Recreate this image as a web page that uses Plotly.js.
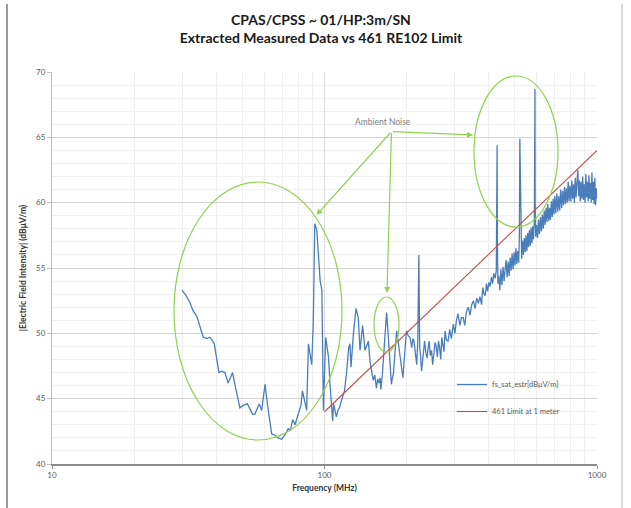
<!DOCTYPE html>
<html>
<head>
<meta charset="utf-8">
<script src="https://cdn.plot.ly/plotly-3.0.1.min.js"></script>
<style>html,body{margin:0;padding:0;background:#fff;}#chart{width:631px;height:508px;}</style>
</head>
<body>
<div id="chart"></div>
<script>
// ---- data ----
const freqMHz = [
  30,31,32,33,34,35,35.9,37,38,39.4,40.2,41,42,43.1,44.3,45.2,46,47,48.9,50.5,
  52.1,53.3,54.5,55.5,56.6,57.6,58.8,60.5,61.8,63.1,64,65.8,67.6,69.6,71.5,73.6,75,76.4,78,79.5,
  80.8,82,83,84.6,86,87.3,88.6,89.8,91,92.1,93.7,95,96.4,97.8,99.1,
  101,103.4,104.8,106,107.1,108,109.1,110.5,112,113.5,115.2,117.2,118.4,120.5,122.7,124,125.1,127.6,130.5,133,
  135,138,140.8,142.5,144.8,147,149,151,153,155,156.8,158.5,160,161,163,164.8,166.5,169,170.8,172.5,
  174.5,176,177.5,179,181.5,184,186.5,189,191.5,194,196.5,198.5,200,203,206,209,211,213,215.5,218,
  220,222,223.5,225,
  227,230,233,235.5,238,240,242,244.5,247,249.5,252,254.5,257,259.5,262,264.5,267,269.5,272,274.5,
  277,280,284,288,292,297,301,305,309,314,318,323,327,332,337,342,347,352,357,362,
  367,372,377,381,385,389,393,397,401,405,410,414,418,423,427,429,430,431,433,
  436,440,444,448,452,456,460,464,468,472,476,480,484,488,492,496,500,504,508,512,
  516,519,521,523,525,529,533,537,541,545,549,553,557,561,565,569,573,577,581,585,
  589,591,592,593,596,600,605,610,615,620,625,630,635,640,645,650,655,660,665,670,
  675,680,685,690,695,700,706,712,718,724,730,736,742,748,754,760,766,772,778,784,
  790,796,802,808,814,820,826,832,838,844,850,856,862,868,874,880,886,892,898,904,
  910,916,922,928,934,940,946,952,958,964,970,976,982,988,994,1000
];
const fieldDbuVm = [
  53.3,52.9,52.4,51.7,51.3,50.4,49.7,49.6,49.7,49.2,48.2,47.0,47.1,47.0,46.2,46.6,47.0,46.0,44.3,44.5,
  44.6,44.2,43.8,43.8,44.2,44.6,44.1,46.1,44.5,43.0,42.3,42.2,42.0,41.9,42.2,42.7,42.6,43.4,43.0,43.6,
  44.1,44.5,45.6,44.8,44.1,49.2,48.3,47.6,51.0,58.4,57.9,55.6,54.0,53.3,44.1,
  49.7,48.2,46.1,44.5,43.3,44.6,44.2,43.6,44.1,44.3,44.8,45.3,45.6,47.0,48.9,49.2,47.4,49.9,51.9,51.2,
  48.7,50.6,48.7,49.0,49.4,47.8,46.9,46.4,46.8,45.8,46.5,46.2,46.6,45.7,46.8,48.2,49.9,51.6,50.3,48.7,
  47.3,46.1,46.6,46.9,48.6,50.2,49.3,48.4,47.3,46.6,48.2,49.3,50.2,49.8,49.7,48.9,49.6,49.4,48.4,47.6,
  49.5,56.0,48.9,48.4,
  47.1,48.2,49.4,48.5,48.1,48.9,49.4,48.3,48.7,47.6,48.4,49.3,49.0,48.2,49.4,48.9,48.0,49.7,49.1,48.6,
  50.2,49.5,49.4,50.3,49.6,50.7,50.0,51.0,51.5,50.6,51.2,51.2,50.6,51.7,52.0,51.4,52.2,52.5,51.9,52.7,
  52.3,52.8,52.2,53.5,53.0,52.9,53.8,53.2,53.9,53.6,54.3,53.8,54.6,54.2,54.8,58.5,64.4,57.0,53.8,
  54.4,53.3,54.9,53.7,55.1,54.0,54.9,55.6,54.3,55.5,54.4,55.8,54.8,56.1,54.9,56.2,55.2,56.5,55.3,56.3,
  55.4,57.5,64.9,62.6,56.8,55.7,57.1,56.0,57.3,56.2,57.5,56.3,57.7,56.6,57.9,56.7,58.1,56.9,58.2,57.2,
  58.6,62.0,68.7,60.0,57.4,58.3,57.3,58.7,57.6,58.9,57.8,59.1,58.0,59.4,58.3,59.6,58.5,59.9,58.6,59.6,
  58.7,60.1,58.9,60.3,59.1,60.5,59.2,60.7,59.3,60.5,59.4,61.0,59.6,60.9,59.8,61.2,59.9,61.1,60.0,61.6,
  60.1,61.3,60.1,61.7,60.3,61.4,60.0,61.9,60.4,61.5,62.5,60.5,61.7,60.1,61.6,60.3,62.0,60.2,61.4,60.0,
  62.2,60.4,61.6,60.1,62.1,60.3,61.5,60.0,62.3,60.2,61.6,59.9,61.9,59.8,61.1,60.3
];
const limitFreqMHz = [100, 1000];
const limitDbuVm = [44, 64];

const seriesNames = ['fs_sat_estr[dBμV/m]', '461 Limit at 1 meter'];
const xTickVals = [10, 100, 1000];
const xTickText = ['10', '100', '1000'];
const xMinorVals = [20,30,40,50,60,70,80,90,200,300,400,500,600,700,800,900];

// ---- layout helpers (pixel -> paper) ----
const W = 631, H = 508;
const L = 52, R = 597, T = 72, B = 464;
const px = v => (v - L) / (R - L);
const py = v => (B - v) / (B - T);
const green = '#92d050';

const traces = [
  {x: freqMHz, y: fieldDbuVm, type: 'scatter', mode: 'lines', name: seriesNames[0],
   legendgroup: 'a', line: {color: '#4a7ebb', width: 1.3}},
  {x: limitFreqMHz, y: limitDbuVm, type: 'scatter', mode: 'lines', name: seriesNames[1],
   legendgroup: 'b', line: {color: '#c0504d', width: 1.1}}
];

const tail = [391.5, 131.5];
const heads = [[316.5, 215], [387, 293], [473, 135]];
const arrows = heads.map(h => ({
  xref: 'paper', yref: 'paper', x: px(h[0]), y: py(h[1]),
  axref: 'pixel', ayref: 'pixel', ax: tail[0] - h[0], ay: tail[1] - h[1],
  text: '', showarrow: true, arrowhead: 2, arrowsize: 1, arrowwidth: 1.2,
  arrowcolor: green, standoff: 0, startstandoff: 0
}));

const ellipse = (x0, x1, y0, y1) => ({
  type: 'circle', xref: 'paper', yref: 'paper',
  x0: px(x0), x1: px(x1), y0: py(y1), y1: py(y0),
  line: {color: green, width: 1.2}
});

const layout = {
  width: W, height: H,
  margin: {l: L, r: W - R, t: T, b: H - B, pad: 0},
  paper_bgcolor: '#ffffff', plot_bgcolor: '#ffffff',
  font: {family: 'Lato, "Open Sans", sans-serif', color: '#595959'},
  title: {
    text: 'CPAS/CPSS ~ 01/HP:3m/SN<br>Extracted Measured Data vs 461 RE102 Limit',
    font: {family: 'Lato, sans-serif', size: 14, color: '#1a1a1a', weight: 'bold'},
    x: 321 / W, xanchor: 'center', xref: 'container',
    y: 1 - 25 / H, yanchor: 'top', yref: 'container'
  },
  xaxis: {
    type: 'log', range: [1, 3],
    tickmode: 'array', tickvals: xTickVals, ticktext: xTickText,
    tickfont: {size: 8, color: '#595959'},
    showgrid: true, gridcolor: '#dcdcdc', gridwidth: 1,
    minor: {tickmode: 'array', tickvals: xMinorVals, showgrid: true, gridcolor: '#eeeeee', ticks: ''},
    showline: true, linecolor: '#8c8c8c', linewidth: 1.5,
    ticks: 'outside', ticklen: 3, tickcolor: '#8c8c8c',
    zeroline: false,
    title: {text: 'Frequency (MHz)', font: {size: 8.5, color: '#333333', weight: 'bold'}, standoff: 6}
  },
  yaxis: {
    range: [40, 70], dtick: 5, tick0: 40,
    tickfont: {size: 8, color: '#595959'},
    showgrid: true, gridcolor: '#d4d4d4', gridwidth: 1,
    minor: {dtick: 1, showgrid: true, gridcolor: '#f1f1f1', ticks: ''},
    showline: true, linecolor: '#bfbfbf', linewidth: 1,
    ticks: 'outside', ticklen: 4, tickcolor: '#bfbfbf',
    zeroline: false,
    title: {text: '|Electric Field Intensity| (dBμV/m)', font: {size: 8.5, color: '#333333', weight: 'bold'}, standoff: 8}
  },
  showlegend: true,
  legend: {
    x: px(452), y: py(370), xanchor: 'left', yanchor: 'top',
    bgcolor: 'rgba(0,0,0,0)', borderwidth: 0,
    font: {size: 7.5, color: '#595959'},
    tracegroupgap: 8, itemwidth: 30, traceorder: 'grouped'
  },
  shapes: [
    ellipse(174, 342, 182, 440),
    ellipse(374, 399, 297, 352),
    ellipse(474, 558, 76, 227),
    {type: 'line', xref: 'paper', yref: 'paper', x0: px(7), x1: px(7), y0: py(4), y1: py(508),
     line: {color: '#9a9a9a', width: 2}},
    {type: 'line', xref: 'paper', yref: 'paper', x0: px(622), x1: px(622), y0: py(4), y1: py(508),
     line: {color: '#d0d0d0', width: 1.5}}
  ],
  annotations: arrows.concat([
    {xref: 'paper', yref: 'paper', x: px(383), y: py(122), text: 'Ambient Noise',
     showarrow: false, font: {size: 8.5, color: '#808080'}, xanchor: 'center', yanchor: 'middle'}
  ])
};

Plotly.newPlot('chart', traces, layout, {displayModeBar: false, staticPlot: true});
</script>
</body>
</html>
